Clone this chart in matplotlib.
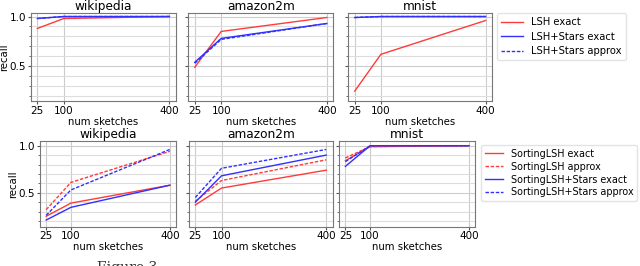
import matplotlib.pyplot as plt
from matplotlib.ticker import MultipleLocator

sketches = [25, 100, 400]
datasets = ["wikipedia", "amazon2m", "mnist"]

# top row: LSH vs LSH+Stars
lsh_exact = {"wikipedia": [0.88, 0.98, 1.0],
             "amazon2m": [0.49, 0.85, 0.99],
             "mnist": [0.25, 0.62, 0.96]}
lsh_stars_exact = {"wikipedia": [0.98, 1.0, 1.0],
                   "amazon2m": [0.54, 0.78, 0.93],
                   "mnist": [0.99, 1.0, 1.0]}
lsh_stars_approx = {"wikipedia": [0.98, 1.0, 1.0],
                    "amazon2m": [0.53, 0.77, 0.93],
                    "mnist": [0.99, 1.0, 1.0]}

# bottom row: SortingLSH vs SortingLSH+Stars
sort_exact = {"wikipedia": [0.25, 0.39, 0.58],
              "amazon2m": [0.37, 0.55, 0.74],
              "mnist": [0.84, 0.99, 1.0]}
sort_approx = {"wikipedia": [0.32, 0.61, 0.94],
               "amazon2m": [0.41, 0.63, 0.85],
               "mnist": [0.87, 0.99, 1.0]}
sort_stars_exact = {"wikipedia": [0.21, 0.345, 0.58],
                    "amazon2m": [0.40, 0.68, 0.90],
                    "mnist": [0.78, 1.0, 1.0]}
sort_stars_approx = {"wikipedia": [0.26, 0.53, 0.96],
                     "amazon2m": [0.45, 0.76, 0.96],
                     "mnist": [0.83, 1.0, 1.0]}

red = "#ff3b3b"
blue = "#3030ff"
dash = (0, (2.5, 1.2))

fig = plt.figure(figsize=(6.4, 2.66), dpi=100)

top_pos = [[0.048, 0.620, 0.227, 0.331],
           [0.294, 0.620, 0.227, 0.331],
           [0.544, 0.620, 0.225, 0.331]]
bot_pos = [[0.0625, 0.148, 0.2125, 0.322],
           [0.295, 0.148, 0.225, 0.322],
           [0.530, 0.148, 0.2125, 0.322]]


def style_axis(ax, name, first, ylim):
    ax.set_title(name, fontsize=8.7, pad=1.5)
    ax.set_xticks(sketches)
    ax.set_ylim(*ylim)
    ax.yaxis.set_major_locator(MultipleLocator(0.5))
    ax.yaxis.set_minor_locator(MultipleLocator(0.1))
    ax.grid(which="major", color="#cccccc", lw=0.8)
    ax.grid(which="minor", axis="y", color="#dddddd", lw=0.8)
    ax.tick_params(labelsize=7.5, pad=1, length=2.5, color="#555555")
    ax.tick_params(which="minor", length=1.5, color="#555555")
    ax.set_xlabel("num sketches", fontsize=7.3, labelpad=0.5)
    for s in ax.spines.values():
        s.set_color("#777777")
    if first:
        ax.set_ylabel("recall", fontsize=7.3, labelpad=0.5)
    else:
        ax.set_yticklabels([])


for i, name in enumerate(datasets):
    ax = fig.add_axes(top_pos[i])
    ax.plot(sketches, lsh_exact[name], color=red, lw=1, label="LSH exact")
    ax.plot(sketches, lsh_stars_exact[name], color=blue, lw=1, label="LSH+Stars exact")
    ax.plot(sketches, lsh_stars_approx[name], color=blue, lw=1, ls=dash, label="LSH+Stars approx")
    style_axis(ax, name, i == 0, (0.15, 1.035))
    if i == 2:
        ax.legend(loc="upper left", bbox_to_anchor=(497 / 640, 1 - 13 / 266),
                  bbox_transform=fig.transFigure, fontsize=7.2,
                  handlelength=2.2, handletextpad=0.8, borderaxespad=0,
                  labelspacing=0.45, edgecolor="#dddddd")

for i, name in enumerate(datasets):
    ax = fig.add_axes(bot_pos[i])
    ax.plot(sketches, sort_exact[name], color=red, lw=1, label="SortingLSH exact")
    ax.plot(sketches, sort_approx[name], color=red, lw=1, ls=dash, label="SortingLSH approx")
    ax.plot(sketches, sort_stars_exact[name], color=blue, lw=1, label="SortingLSH+Stars exact")
    ax.plot(sketches, sort_stars_approx[name], color=blue, lw=1, ls=dash, label="SortingLSH+Stars approx")
    style_axis(ax, name, i == 0, (0.14, 1.05))
    if i == 2:
        ax.legend(loc="upper left", bbox_to_anchor=(481 / 640, 1 - 145 / 266),
                  bbox_transform=fig.transFigure, fontsize=6.9,
                  handlelength=1.9, handletextpad=0.8, borderaxespad=0,
                  labelspacing=0.3, edgecolor="#dddddd")

fig.text(0.152, 0.02, "Figure 3", va="top", fontsize=10, family="serif", color="#333333")

fig.savefig("out.png", dpi=100)
